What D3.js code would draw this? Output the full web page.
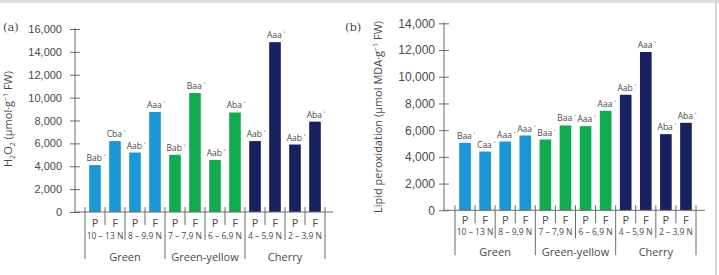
<!DOCTYPE html>
<html>
<head>
<meta charset="utf-8">
<script src="https://cdn.jsdelivr.net/npm/d3@7"></script>
<style>
  body { margin: 0; background: #fff; }
  svg { display: block; font-family: "Open Sans", sans-serif; }
</style>
</head>
<body>
<script>
// Width and Height of the whole picture
var width = 719;
var height = 275;

// categories
var stages = ["P", "F", "P", "F", "P", "F", "P", "F", "P", "F", "P", "F"];
var ranges = ["10 – 13 N", "8 – 9,9 N", "7 – 7,9 N", "6 – 6,9 N", "4 – 5,9 N", "2 – 3,9 N"];
var groups = ["Green", "Green-yellow", "Cherry"];
var groupColors = ["#1b96d6", "#10aa4f", "#17215f"];

// panel (a) H2O2
var h2o2Values = [4100, 6200, 5200, 8750, 5000, 10400, 4550, 8700, 6200, 14850, 5900, 7900];
var h2o2Letters = ["Bab", "Cba", "Aab", "Aaa", "Bab", "Baa", "Aab", "Aba", "Aab", "Aaa", "Aab", "Aba"];
var h2o2Ticks = [0, 2000, 4000, 6000, 8000, 10000, 12000, 14000, 16000];

// panel (b) lipid peroxidation
var lipidValues = [5050, 4400, 5150, 5600, 5300, 6350, 6300, 7450, 8650, 11850, 5700, 6550];
var lipidLetters = ["Baa", "Caa", "Aaa", "Aaa", "Baa", "Baa", "Aaa", "Aaa", "Aab", "Aaa", "Aba", "Aba"];
var lipidTicks = [0, 2000, 4000, 6000, 8000, 10000, 12000, 14000];

var svg = d3.select("body")
    .append("svg")
    .attr("width", width)
    .attr("height", height);

// thin grey frame bits of the scanned figure
svg.append("rect").attr("x", 0).attr("y", 0).attr("width", width).attr("height", 3).attr("fill", "#dcdcdc");
svg.append("rect").attr("x", 715).attr("y", 0).attr("width", 2).attr("height", height).attr("fill", "#d6d6d6");

var axisColor = "#6b6b6b";
var textColor = "#4a4a4a";

function drawPanel(opt) {
  var g = svg.append("g");

  var x = d3.scaleBand()
      .domain(d3.range(12))
      .range([opt.bandLeft, opt.bandRight])
      .paddingInner(0.42)
      .paddingOuter(0.21);

  var y = d3.scaleLinear()
      .domain([0, opt.max])
      .range([opt.base, opt.top]);

  // y axis
  var yAxis = d3.axisLeft(y)
      .tickValues(opt.ticks)
      .tickFormat(d3.format(","))
      .tickSize(5)
      .tickPadding(opt.tickPad);

  var ya = g.append("g")
      .attr("transform", "translate(" + opt.axisX + ",0)")
      .call(yAxis);
  ya.select(".domain").attr("stroke", axisColor).attr("d", "M0," + opt.base + "V" + (opt.top - 1));
  ya.selectAll(".tick line").attr("x1", -5).attr("x2", 5).attr("stroke", axisColor);
  ya.selectAll(".tick text")
      .attr("fill", textColor)
      .style("font-size", opt.tickFont + "px");

  // bars
  g.selectAll(".bar")
      .data(opt.values)
      .enter()
      .append("rect")
      .attr("class", "bar")
      .attr("x", function(d, i) { return x(i); })
      .attr("width", x.bandwidth())
      .attr("y", function(d) { return y(d); })
      .attr("height", function(d) { return opt.base - y(d); })
      .attr("fill", function(d, i) { return groupColors[Math.floor(i / 4)]; });

  // letters above bars
  var lab = g.selectAll(".lab")
      .data(opt.values)
      .enter()
      .append("text")
      .attr("class", "lab")
      .attr("x", function(d, i) { return x(i) + x.bandwidth() / 2 + 1; })
      .attr("y", function(d) { return y(d) - 4; })
      .attr("text-anchor", "middle")
      .attr("fill", textColor)
      .style("font-size", "8.5px");
  lab.append("tspan").text(function(d, i) { return opt.letters[i]; });
  lab.append("tspan").attr("dx", 2).attr("dy", -1).style("font-size", "7px").text("ʹ");

  // baseline
  g.append("line")
      .attr("x1", opt.axisX - 1).attr("x2", opt.lineRight)
      .attr("y1", opt.base).attr("y2", opt.base)
      .attr("stroke", axisColor);

  // separators under the bars
  var step = x.step();
  var start = opt.bandLeft;
  g.selectAll(".sep")
      .data(d3.range(13))
      .enter()
      .append("line")
      .attr("x1", function(k) { return start + k * step; })
      .attr("x2", function(k) { return start + k * step; })
      .attr("y1", opt.base - 5)
      .attr("y2", function(k) {
        if (k % 4 == 0) return opt.base + opt.longSep;
        if (k % 2 == 0) return opt.base + 28;
        return opt.base + 13;
      })
      .attr("stroke", axisColor);

  // P / F
  g.selectAll(".stage")
      .data(stages)
      .enter()
      .append("text")
      .attr("x", function(d, i) { return x(i) + x.bandwidth() / 2; })
      .attr("y", opt.base + opt.stageDy)
      .attr("text-anchor", "middle")
      .attr("fill", textColor)
      .style("font-size", "11px")
      .text(function(d) { return d; });

  // maturity ranges
  g.selectAll(".range")
      .data(ranges)
      .enter()
      .append("text")
      .attr("x", function(d, i) { return start + (i * 2 + 1) * step; })
      .attr("y", opt.base + opt.rangeDy)
      .attr("text-anchor", "middle")
      .attr("fill", textColor)
      .style("font-size", "8.5px")
      .text(function(d) { return d; });

  // colour groups
  g.selectAll(".grp")
      .data(groups)
      .enter()
      .append("text")
      .attr("x", function(d, i) { return start + (i * 4 + 2) * step; })
      .attr("y", opt.base + opt.groupDy)
      .attr("text-anchor", "middle")
      .attr("fill", textColor)
      .style("font-size", "11px")
      .text(function(d) { return d; });

  // panel letter
  g.append("text")
      .attr("x", opt.letterX)
      .attr("y", 31)
      .attr("fill", textColor)
      .style("font-family", "'DejaVu Serif', serif")
      .style("font-size", "11.5px")
      .text(opt.panel);

  // y title
  var t = g.append("text")
      .attr("transform", "translate(" + opt.titleX + "," + opt.titleY + ") rotate(-90)")
      .attr("text-anchor", "middle")
      .attr("fill", textColor)
      .style("font-size", "11px");
  opt.title(t);
}

drawPanel({
  panel: "(a)", letterX: 3,
  values: h2o2Values, letters: h2o2Letters, ticks: h2o2Ticks, max: 16000,
  axisX: 75, bandLeft: 85, bandRight: 325, lineRight: 333,
  base: 212, top: 29, tickPad: 8, tickFont: 11,
  stageDy: 15, rangeDy: 27, groupDy: 49, longSep: 47,
  titleX: 12, titleY: 119,
  title: function(t) {
    t.append("tspan").text("H");
    t.append("tspan").attr("dy", 3).style("font-size", "7px").text("2");
    t.append("tspan").attr("dy", -3).text("O");
    t.append("tspan").attr("dy", 3).style("font-size", "7px").text("2");
    t.append("tspan").attr("dy", -3).text(" (µmol·g");
    t.append("tspan").attr("dy", -4).style("font-size", "7px").text("−1");
    t.append("tspan").attr("dy", 4).text(" FW)");
  }
});

drawPanel({
  panel: "(b)", letterX: 345,
  values: lipidValues, letters: lipidLetters, ticks: lipidTicks, max: 14000,
  axisX: 444, bandLeft: 455, bandRight: 696, lineRight: 705,
  base: 210.3, top: 23.3, tickPad: 4, tickFont: 12,
  stageDy: 14, rangeDy: 25, groupDy: 46, longSep: 45,
  titleX: 382, titleY: 117,
  title: function(t) {
    t.append("tspan").text("Lipid peroxidation (µmol MDA·g");
    t.append("tspan").attr("dy", -4).style("font-size", "7px").text("−1");
    t.append("tspan").attr("dy", 4).text(" FW)");
  }
});
</script>
</body>
</html>
